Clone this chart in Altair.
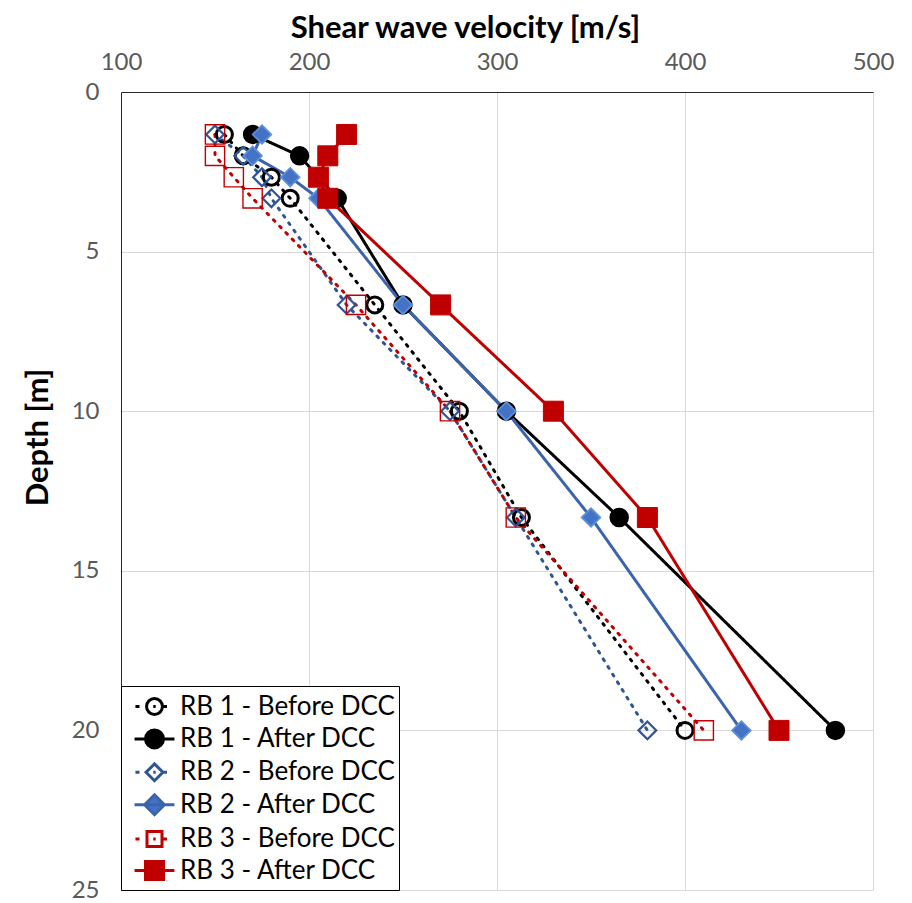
import altair as alt
import pandas as pd

depths = [1.33, 2.0, 2.67, 3.33, 6.67, 10.0, 13.33, 20.0]
series_names = ["RB 1 - Before DCC", "RB 1 - After DCC", "RB 2 - Before DCC",
                "RB 2 - After DCC", "RB 3 - Before DCC", "RB 3 - After DCC"]
rb1_before = [155, 165, 180, 190, 235, 280, 313, 400]
rb1_after = [170, 195, 205, 215, 250, 305, 365, 480]
rb2_before = [150, 165, 175, 180, 220, 275, 310, 380]
rb2_after = [175, 170, 190, 205, 250, 305, 350, 430]
rb3_before = [150, 150, 160, 170, 225, 275, 310, 410]
rb3_after = [220, 210, 205, 210, 270, 330, 380, 450]
x_ticks = [100, 200, 300, 400, 500]
y_ticks = [0, 5, 10, 15, 20, 25]

rows = []
for name, vals in zip(series_names, [rb1_before, rb1_after, rb2_before, rb2_after, rb3_before, rb3_after]):
    for d, v in zip(depths, vals):
        rows.append({"series": name, "depth": d, "vs": v})
df = pd.DataFrame(rows)

line_colors = ["#000000", "#000000", "#2F5597", "#3B64AD", "#C00000", "#C00000"]
marker_stroke = ["#000000", "#000000", "#2F5597", "#5B8FDB", "#C00000", "#C00000"]
marker_fill = ["transparent", "#000000", "transparent", "#4472C4", "transparent", "#C00000"]
shapes = ["circle", "circle", "diamond", "diamond", "square", "square"]
sizes = [256, 400, 324, 500, 324, 484]
stroke_widths = [3, 1, 3, 1, 3, 1]
dashes = [[2, 7], [1, 0], [2, 7], [1, 0], [2, 7], [1, 0]]

# legend symbol paths (unit box spans 30 px; line segments reach 40 px)
circ_o = "M-0.53,0 A0.53,0.53 0 1,0 0.53,0 A0.53,0.53 0 1,0 -0.53,0 Z"
circ_f = "M-0.6,0 A0.6,0.6 0 1,0 0.6,0 A0.6,0.6 0 1,0 -0.6,0 Z"
dots = "M-1.27,0 L-1.0,0 M-0.08,0 L0.08,0 M0.53,0 L0.83,0 "
solid = "M-1.33,0 L1.33,0 "
legend_paths = [
    dots + circ_o,
    solid + circ_f,
    dots + "M0,-0.56 L0.56,0 L0,0.56 L-0.56,0 Z",
    solid + "M0,-0.66 L0.66,0 L0,0.66 L-0.66,0 Z",
    dots + "M-0.5,-0.5 L0.5,-0.5 L0.5,0.5 L-0.5,0.5 Z",
    solid + "M-0.6,-0.6 L0.6,-0.6 L0.6,0.6 L-0.6,0.6 Z",
]

FONT = "Lato"

x_enc = alt.X("vs:Q", scale=alt.Scale(domain=[100, 500], nice=False, zero=False),
              axis=alt.Axis(orient="top", values=x_ticks, title="Shear wave velocity [m/s]",
                            labelPadding=18, labelFlush=False, grid=True,
                            titleBaseline="middle", titleX=344, titleY=-64))
y_enc = alt.Y("depth:Q", scale=alt.Scale(domain=[0, 25], reverse=True, nice=False, zero=False),
              axis=alt.Axis(values=y_ticks, title="Depth [m]", labelPadding=22, labelFlush=False,
                            titleBaseline="middle", titleX=-83, titleY=345, grid=True))

base = alt.Chart(df)

lines = base.mark_line(strokeWidth=3, strokeCap="round").encode(
    x=x_enc, y=y_enc,
    color=alt.Color("series:N", scale=alt.Scale(domain=series_names, range=line_colors), legend=None),
    strokeDash=alt.StrokeDash("series:N", scale=alt.Scale(domain=series_names, range=dashes), legend=None),
    order=alt.Order("depth:Q"),
)

points = base.mark_point(opacity=1, filled=False).encode(
    x="vs:Q", y="depth:Q",
    shape=alt.Shape("series:N", scale=alt.Scale(domain=series_names, range=shapes), legend=None),
    stroke=alt.Stroke("series:N", scale=alt.Scale(domain=series_names, range=marker_stroke), legend=None),
    fill=alt.Fill("series:N", scale=alt.Scale(domain=series_names, range=marker_fill), legend=None),
    size=alt.Size("series:N", scale=alt.Scale(domain=series_names, range=sizes), legend=None),
    strokeWidth=alt.StrokeWidth("series:N", scale=alt.Scale(domain=series_names, range=stroke_widths), legend=None),
)

leg = alt.Legend(title=None, orient="bottom-left", offset=0, padding=4,
                 strokeColor="#000000", fillColor="#FFFFFF", labelFont=FONT,
                 labelFontSize=26, labelColor="#000000", labelOffset=9,
                 symbolSize=900, symbolStrokeWidth=3, rowPadding=1.4, symbolOffset=13,
                 symbolOpacity=1, labelLimit=400)

legend_layer = base.transform_filter("false").mark_point(opacity=1, size=900).encode(
    x="vs:Q", y="depth:Q",
    color=alt.Color("series:N", scale=alt.Scale(domain=series_names, range=line_colors), legend=leg),
    fill=alt.Fill("series:N", scale=alt.Scale(domain=series_names, range=marker_fill), legend=leg),
    shape=alt.Shape("series:N", scale=alt.Scale(domain=series_names, range=legend_paths), legend=leg),
)

chart = alt.layer(lines, points, legend_layer).resolve_scale(
    color="independent", fill="independent", shape="independent"
).properties(
    width=752, height=798,
    autosize=alt.AutoSizeParams(type="none"),
    padding={"left": 113, "top": 84, "right": 31, "bottom": 13},
).configure_view(stroke=None).configure_axis(
    labelFont=FONT, labelFontSize=24, labelColor="#595959",
    titleFont=FONT, titleFontSize=31, titleFontWeight="bold", titleColor="#000000",
    ticks=False, gridColor="#D9D9D9", gridWidth=1,
    domainColor="#262626", domainWidth=1,
)

chart.save("out.html", embed_options={"renderer": "svg", "actions": False})
